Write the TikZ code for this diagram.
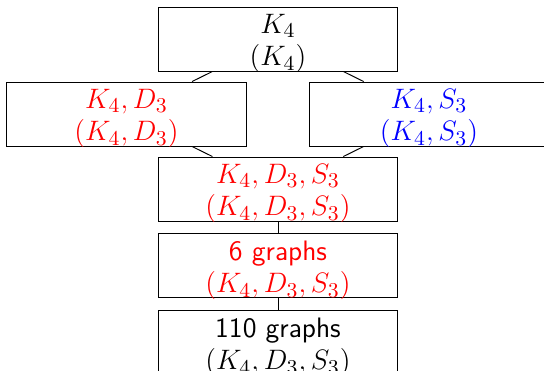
\documentclass[tikz,border=0pt]{standalone}
\usepackage{tikz}
\usetikzlibrary{positioning,calc}
\definecolor{OrbRed}{HTML}{FF0000}
\definecolor{OrbBlue}{HTML}{0000FF}
\newcommand{\orbm}[1]{{\fontsize{12.4}{14}\selectfont$#1$}}

\begin{document}
\begin{tikzpicture}[x=0.015cm,y=0.015cm,
  orbit/.style={draw,minimum width=3.59cm,minimum height=0.96cm,inner sep=1pt,align=center,
    text height=24pt,text depth=1pt,font=\sffamily\fontsize{12}{14}\selectfont}]
\useasboundingbox (-278,39) rectangle (266,-331);
\node[orbit] (k4) at (0,0) {\orbm{K_4}\\\orbm{(K_4)}};
\node[orbit,text=OrbRed] (kd) at ($(k4)+(-151.5,-75)$) {\orbm{K_4,D_3}\\\orbm{(K_4,D_3)}};
\node[orbit,text=OrbBlue] (ks) at ($(k4)+(151,-75)$) {\orbm{K_4,S_3}\\\orbm{(K_4,S_3)}};
\node[orbit,text=OrbRed] (kds) at ($(k4)+(0,-150)$) {\orbm{K_4,D_3,S_3}\\\orbm{(K_4,D_3,S_3)}};
\node[orbit,text=OrbRed,below=0.18cm of kds] (six) {6 graphs\\\orbm{(K_4,D_3,S_3)}};
\node[orbit,below=0.18cm of six] (all) {110 graphs\\\orbm{(K_4,D_3,S_3)}};
\draw (k4) -- (kd);
\draw (k4) -- (ks);
\draw (kd) -- (kds);
\draw (ks) -- (kds);
\draw (kds) -- (six);
\draw (six) -- (all);
\end{tikzpicture}
\end{document}
